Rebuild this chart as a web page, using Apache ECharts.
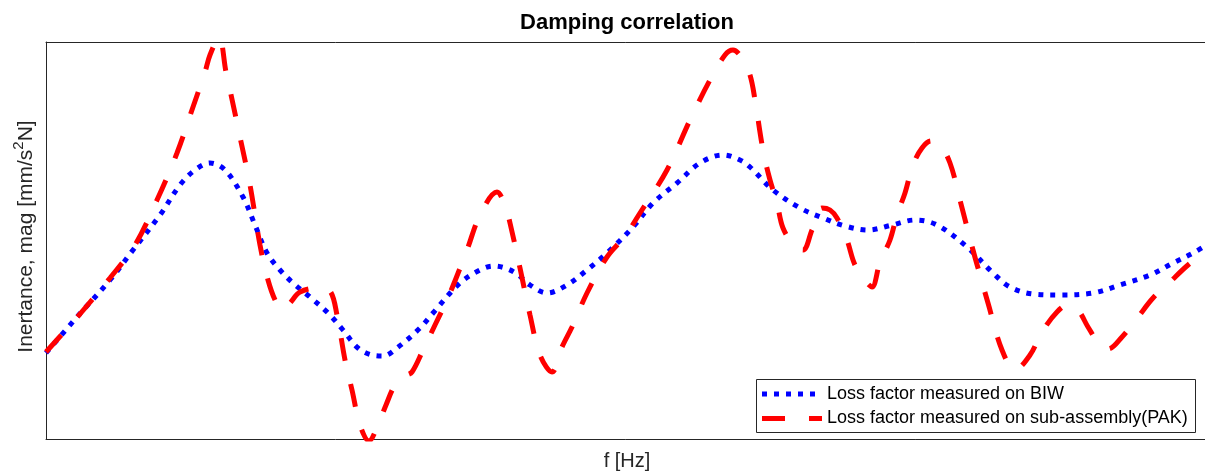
<!DOCTYPE html>
<html>
<head>
<meta charset="utf-8">
<title>Damping correlation</title>
<script src="https://cdn.jsdelivr.net/npm/echarts@6/dist/echarts.min.js"></script>
<style>
  html, body { margin: 0; padding: 0; background: #fff; }
  #chart { width: 1205px; height: 472px; }
</style>
</head>
<body>
<div id="chart"></div>
<script>
// Frequency axis positions (arbitrary linear units) and inertance magnitudes
const biwFreq = [0, 31, 64, 87, 114, 134, 149, 164, 179, 197, 209, 221, 234, 247, 264, 282, 297, 312, 326, 337, 351, 374, 387, 414, 434, 447, 459, 471, 484, 501, 521, 541, 561, 587, 607, 631, 654, 677, 694, 704, 727, 754, 777, 799, 822, 846, 869, 891, 921, 947, 964, 987, 1014, 1047, 1074, 1104, 1127, 1147, 1164];
const biwMag  = [86, 122, 159, 189, 224, 254, 269, 276, 269, 242, 214, 186, 169, 156, 142, 126, 109, 91, 84, 83, 91, 111, 126, 156, 169, 173, 171, 165, 154, 146, 154, 169, 186, 212, 236, 256, 276, 284, 279, 272, 249, 231, 221, 213, 209, 214, 219, 214, 192, 166, 152, 145, 144, 146, 154, 164, 176, 186, 196];

const pakFreq = [0, 34, 64, 89, 111, 131, 147, 159, 164, 173, 180, 184, 194, 204, 214, 222, 230, 237, 244, 254, 272, 284, 291, 299, 306, 314, 323, 332, 340, 349, 359, 366, 377, 389, 404, 421, 434, 451, 459, 464, 474, 484, 494, 506, 516, 526, 541, 561, 579, 594, 621, 644, 664, 679, 687, 696, 704, 709, 717, 724, 731, 737, 749, 757, 766, 776, 784, 791, 801, 809, 821, 826, 834, 844, 851, 859, 867, 876, 885, 894, 904, 914, 927, 936, 942, 956, 969, 984, 996, 1011, 1022, 1032, 1042, 1054, 1062, 1076, 1092, 1107, 1124, 1142, 1164];
const pakMag  = [87, 125, 161, 194, 239, 286, 332, 367, 384, 402, 367, 349, 302, 254, 194, 159, 137, 129, 136, 147, 151, 148, 124, 79, 49, 14, -2, 14, 34, 54, 63, 67, 89, 114, 146, 189, 224, 247, 234, 216, 171, 124, 84, 67, 92, 112, 146, 182, 203, 226, 269, 319, 359, 384, 389, 381, 364, 339, 289, 259, 236, 211, 192, 189, 209, 231, 229, 221, 199, 174, 156, 152, 177, 199, 224, 246, 274, 291, 298, 294, 276, 239, 189, 157, 136, 89, 69, 84, 107, 127, 134, 129, 112, 94, 90, 102, 122, 141, 157, 174, 191];

const seriesNames = ['Loss factor measured on BIW', 'Loss factor measured on sub-assembly(PAK)'];
const chartTitle = 'Damping correlation';
const xLabel = 'f [Hz]';
const yLabel = '{n|Inertance, mag [mm/s}{sup|2}{n|N]}';

const BLUE = '#0000ff';
const RED = '#ff0000';
const BIW_DASH = [5, 7];
const PAK_DASH = [23, 24];
const AXIS_COLOR = '#262626';
const FONT = '"Liberation Sans", Arial, Helvetica, sans-serif';

const zip = (xs, ys) => xs.map((x, i) => [x, ys[i]]);

const chart = echarts.init(document.getElementById('chart'), null, { renderer: 'canvas' });

// Boxed legend in the lower right corner of the axes
const legendBox = { x: 756, y: 379, w: 439, h: 53 };
const legendRows = [
  { name: seriesNames[0], color: BLUE, dash: BIW_DASH, y: 394 },
  { name: seriesNames[1], color: RED, dash: PAK_DASH, y: 418.5 }
];
const legendGraphics = [
  {
    type: 'rect', z: 100,
    shape: { x: legendBox.x + 0.5, y: legendBox.y + 0.5, width: legendBox.w, height: legendBox.h },
    style: { fill: '#ffffff', stroke: AXIS_COLOR, lineWidth: 1 }
  }
];
legendRows.forEach(r => {
  legendGraphics.push({
    type: 'line', z: 101,
    shape: { x1: 762, y1: r.y, x2: 822, y2: r.y },
    style: { stroke: r.color, lineWidth: 5, lineDash: r.dash, lineCap: 'butt' }
  });
  legendGraphics.push({
    type: 'text', z: 101, x: 827, y: r.y,
    style: { text: r.name, font: '18px ' + FONT, fill: '#000000', textAlign: 'left', textVerticalAlign: 'middle' }
  });
});

const hiddenParts = {
  axisTick: { show: false }, axisLabel: { show: false }, splitLine: { show: false }
};
const boxLine = { show: true, onZero: false, lineStyle: { color: AXIS_COLOR, width: 1 } };

chart.setOption({
  backgroundColor: '#ffffff',
  animation: false,
  title: {
    text: chartTitle,
    left: 627,
    top: 12,
    padding: 0,
    textAlign: 'center',
    textStyle: { fontFamily: FONT, fontSize: 22, fontWeight: 'bold', color: '#000000' }
  },
  grid: {
    left: 46, top: 42, width: 1162, height: 397,
    outerBoundsMode: 'none',
    containLabel: false
  },
  xAxis: [
    Object.assign({
      type: 'value', min: 0, max: 1162, position: 'bottom',
      name: xLabel, nameLocation: 'middle', nameGap: 12,
      nameTextStyle: { fontFamily: FONT, fontSize: 20, color: AXIS_COLOR },
      axisLine: boxLine
    }, hiddenParts),
    Object.assign({
      type: 'value', min: 0, max: 1162, position: 'top',
      axisLine: boxLine
    }, hiddenParts)
  ],
  yAxis: Object.assign({
    type: 'value', min: 0, max: 397, position: 'left',
    name: yLabel, nameLocation: 'middle', nameGap: 5,
    nameTextStyle: {
      padding: [0, 0, 0, 8],
      rich: {
        n: { fontFamily: FONT, fontSize: 21, color: AXIS_COLOR, lineHeight: 30 },
        sup: { fontFamily: FONT, fontSize: 15, color: AXIS_COLOR, lineHeight: 15, verticalAlign: 'top' }
      }
    },
    axisLine: boxLine
  }, hiddenParts),
  graphic: legendGraphics,
  series: [
    {
      name: seriesNames[0],
      type: 'line',
      xAxisIndex: 0,
      data: zip(biwFreq, biwMag),
      smooth: 0.35,
      symbol: 'none',
      clip: true,
      lineStyle: { color: BLUE, width: 5, type: BIW_DASH, cap: 'butt' }
    },
    {
      name: seriesNames[1],
      type: 'line',
      xAxisIndex: 0,
      data: zip(pakFreq, pakMag),
      smooth: 0.35,
      symbol: 'none',
      clip: true,
      lineStyle: { color: RED, width: 5, type: PAK_DASH, cap: 'butt' }
    }
  ]
});
</script>
</body>
</html>
